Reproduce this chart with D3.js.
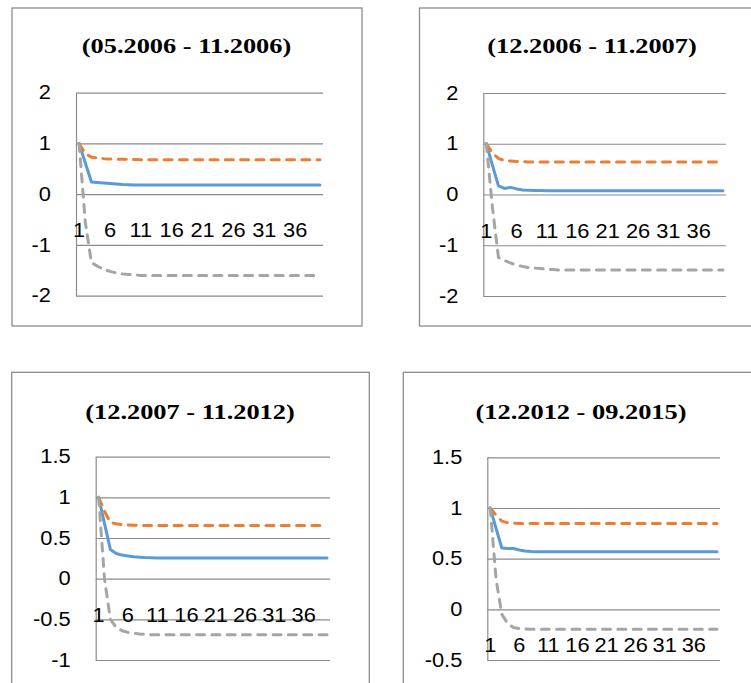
<!DOCTYPE html>
<html>
<head>
<meta charset="utf-8">
<script src="https://cdn.jsdelivr.net/npm/d3@7"></script>
<style>
body { margin: 0; background: #fff; }
</style>
</head>
<body>
<svg id="chart" width="751" height="683"></svg>
<script>
// periods (horizon 1..40)
var categories = [1,2,3,4,5,6,7,8,9,10,11,12,13,14,15,16,17,18,19,20,
                  21,22,23,24,25,26,27,28,29,30,31,32,33,34,35,36,37,38,39,40];
var xTickLabels = [1, 6, 11, 16, 21, 26, 31, 36];
var titles = ["(05.2006 - 11.2006)", "(12.2006 - 11.2007)", "(12.2007 - 11.2012)", "(12.2012 - 09.2015)"];

var ticksTop = [-2, -1, 0, 1, 2];
var ticksBottomLeft = [-1, -0.5, 0, 0.5, 1, 1.5];
var ticksBottomRight = [-0.5, 0, 0.5, 1, 1.5];

// panel 1
var blue1 = [1,0.62,0.24,0.23,0.22,0.21,0.2,0.19,0.185,0.18,0.18,0.18,0.18,0.18,0.18,0.18,0.18,0.18,0.18,0.18,
             0.18,0.18,0.18,0.18,0.18,0.18,0.18,0.18,0.18,0.18,0.18,0.18,0.18,0.18,0.18,0.18,0.18,0.18,0.18,0.18];
var orange1 = [1,0.8,0.73,0.71,0.7,0.695,0.69,0.69,0.685,0.685,0.68,0.68,0.68,0.68,0.68,0.68,0.68,0.68,0.68,0.68,
               0.68,0.68,0.68,0.68,0.68,0.68,0.68,0.68,0.68,0.68,0.68,0.68,0.68,0.68,0.68,0.68,0.68,0.68,0.68,0.68];
var grey1 = [1,-0.55,-1.35,-1.42,-1.48,-1.52,-1.55,-1.57,-1.58,-1.59,-1.6,-1.6,-1.6,-1.6,-1.6,-1.6,-1.6,-1.6,-1.6,-1.6,
             -1.6,-1.6,-1.6,-1.6,-1.6,-1.6,-1.6,-1.6,-1.6,-1.6,-1.6,-1.6,-1.6,-1.6,-1.6,-1.6,-1.6,-1.6,-1.6,-1.6];

// panel 2
var blue2 = [1,0.58,0.17,0.12,0.14,0.11,0.09,0.085,0.08,0.078,0.075,0.075,0.075,0.075,0.075,0.075,0.075,0.075,0.075,0.075,
             0.075,0.075,0.075,0.075,0.075,0.075,0.075,0.075,0.075,0.075,0.075,0.075,0.075,0.075,0.075,0.075,0.075,0.075,0.075,0.075];
var orange2 = [1,0.82,0.71,0.67,0.66,0.65,0.645,0.64,0.64,0.64,0.64,0.64,0.64,0.64,0.64,0.64,0.64,0.64,0.64,0.64,
               0.64,0.64,0.64,0.64,0.64,0.64,0.64,0.64,0.64,0.64,0.64,0.64,0.64,0.64,0.64,0.64,0.64,0.64,0.64,0.64];
var grey2 = [1,-0.25,-1.24,-1.3,-1.35,-1.39,-1.42,-1.44,-1.45,-1.46,-1.47,-1.48,-1.49,-1.49,-1.49,-1.49,-1.49,-1.49,-1.49,-1.49,
             -1.49,-1.49,-1.49,-1.49,-1.49,-1.49,-1.49,-1.49,-1.49,-1.49,-1.49,-1.49,-1.49,-1.49,-1.49,-1.49,-1.49,-1.49,-1.49,-1.49];

// panel 3
var blue3 = [1,0.68,0.36,0.31,0.29,0.28,0.27,0.265,0.26,0.258,0.255,0.255,0.255,0.255,0.255,0.255,0.255,0.255,0.255,0.255,
             0.255,0.255,0.255,0.255,0.255,0.255,0.255,0.255,0.255,0.255,0.255,0.255,0.255,0.255,0.255,0.255,0.255,0.255,0.255,0.255];
var orange3 = [1,0.83,0.69,0.675,0.665,0.66,0.657,0.655,0.655,0.655,0.655,0.655,0.655,0.655,0.655,0.655,0.655,0.655,0.655,0.655,
               0.655,0.655,0.655,0.655,0.655,0.655,0.655,0.655,0.655,0.655,0.655,0.655,0.655,0.655,0.655,0.655,0.655,0.655,0.655,0.655];
var grey3 = [1,0.0,-0.5,-0.6,-0.64,-0.66,-0.67,-0.68,-0.685,-0.69,-0.69,-0.69,-0.69,-0.69,-0.69,-0.69,-0.69,-0.69,-0.69,-0.69,
             -0.69,-0.69,-0.69,-0.69,-0.69,-0.69,-0.69,-0.69,-0.69,-0.69,-0.69,-0.69,-0.69,-0.69,-0.69,-0.69,-0.69,-0.69,-0.69,-0.69];

// panel 4
var blue4 = [1,0.8,0.605,0.6,0.6,0.585,0.575,0.57,0.568,0.568,0.568,0.568,0.568,0.568,0.568,0.568,0.568,0.568,0.568,0.568,
             0.568,0.568,0.568,0.568,0.568,0.568,0.568,0.568,0.568,0.568,0.568,0.568,0.568,0.568,0.568,0.568,0.568,0.568,0.568,0.568];
var orange4 = [1,0.93,0.87,0.855,0.85,0.848,0.848,0.848,0.848,0.848,0.848,0.848,0.848,0.848,0.848,0.848,0.848,0.848,0.848,0.848,
               0.848,0.848,0.848,0.848,0.848,0.848,0.848,0.848,0.848,0.848,0.848,0.848,0.848,0.848,0.848,0.848,0.848,0.848,0.848,0.848];
var grey4 = [1,0.3,-0.05,-0.14,-0.18,-0.19,-0.195,-0.197,-0.197,-0.197,-0.197,-0.197,-0.197,-0.197,-0.197,-0.197,-0.197,-0.197,-0.197,-0.197,
             -0.197,-0.197,-0.197,-0.197,-0.197,-0.197,-0.197,-0.197,-0.197,-0.197,-0.197,-0.197,-0.197,-0.197,-0.197,-0.197,-0.197,-0.197,-0.197,-0.197];

var colors = ["#5b9bd5", "#ed7d31", "#a5a5a5"];
var dashed = [false, true, true];
var sx = 1.12; // text in the picture is a bit wide

var svg = d3.select("#chart");

var panels = [
  { title: titles[0], data: [blue1, orange1, grey1], ticks: ticksTop,
    box: [12, 8, 350, 318], left: 76, right: 323, top: 92.7, bottom: 295.7, tx: 186.5, ty: 53 },
  { title: titles[1], data: [blue2, orange2, grey2], ticks: ticksTop,
    box: [419.5, 8, 360, 318], left: 483.3, right: 726, top: 93, bottom: 296, tx: 592, ty: 53 },
  { title: titles[2], data: [blue3, orange3, grey3], ticks: ticksBottomLeft,
    box: [11.7, 372.3, 357.6, 400], left: 95.7, right: 330, top: 456.7, bottom: 660, tx: 190, ty: 419 },
  { title: titles[3], data: [blue4, orange4, grey4], ticks: ticksBottomRight,
    box: [403.3, 372.3, 400, 400], left: 487.3, right: 720, top: 457.3, bottom: 660, tx: 581, ty: 419 }
];

panels.forEach(function (p) {
  var g = svg.append("g");

  g.append("rect")
    .attr("x", p.box[0]).attr("y", p.box[1])
    .attr("width", p.box[2]).attr("height", p.box[3])
    .attr("fill", "#fff")
    .attr("stroke", "#8c8c8c")
    .attr("stroke-width", 1.3);

  g.append("text")
    .attr("transform", "translate(" + p.tx + "," + p.ty + ") scale(1.2,1)")
    .attr("text-anchor", "middle")
    .attr("font-family", "Liberation Serif, Times New Roman, serif")
    .attr("font-weight", "bold")
    .attr("font-size", "22px")
    .attr("fill", "#000")
    .text(p.title);

  var x = d3.scalePoint().domain(categories).range([p.left, p.right]).padding(0.5);
  var y = d3.scaleLinear().domain(d3.extent(p.ticks)).range([p.bottom, p.top]);

  var yAxis = g.append("g")
    .attr("transform", "translate(" + p.left + ",0)")
    .call(d3.axisLeft(y).tickValues(p.ticks).tickSize(-(p.right - p.left))
      .tickSizeOuter(0).tickPadding(25).tickFormat(function (d) { return String(d); }));
  yAxis.select(".domain").attr("stroke", "#8c8c8c").attr("stroke-width", 1.2);
  yAxis.selectAll(".tick line").attr("stroke", "#8a8a8a").attr("stroke-width", 1.2);
  yAxis.selectAll(".tick text")
    .attr("x", -25 / sx)
    .attr("transform", "scale(" + sx + ",1)")
    .attr("font-family", "Liberation Sans, Arial, sans-serif")
    .attr("font-size", "19.5px")
    .attr("fill", "#000");

  // category labels sit below the zero line
  g.selectAll(".xlab")
    .data(xTickLabels)
    .enter()
    .append("text")
    .attr("class", "xlab")
    .attr("transform", function (d) { return "translate(" + x(d) + "," + (y(0) + 43) + ") scale(" + sx + ",1)"; })
    .attr("text-anchor", "middle")
    .attr("font-family", "Liberation Sans, Arial, sans-serif")
    .attr("font-size", "19.5px")
    .attr("fill", "#000")
    .text(function (d) { return d; });

  var line = d3.line()
    .x(function (d, i) { return x(categories[i]); })
    .y(function (d) { return y(d); });

  p.data.forEach(function (s, k) {
    g.append("path")
      .datum(s)
      .attr("fill", "none")
      .attr("stroke", colors[k])
      .attr("stroke-width", 3)
      .attr("stroke-linecap", "round")
      .attr("stroke-linejoin", "round")
      .attr("stroke-dasharray", dashed[k] ? "8,7.3" : null)
      .attr("d", line);
  });
});
</script>
</body>
</html>
